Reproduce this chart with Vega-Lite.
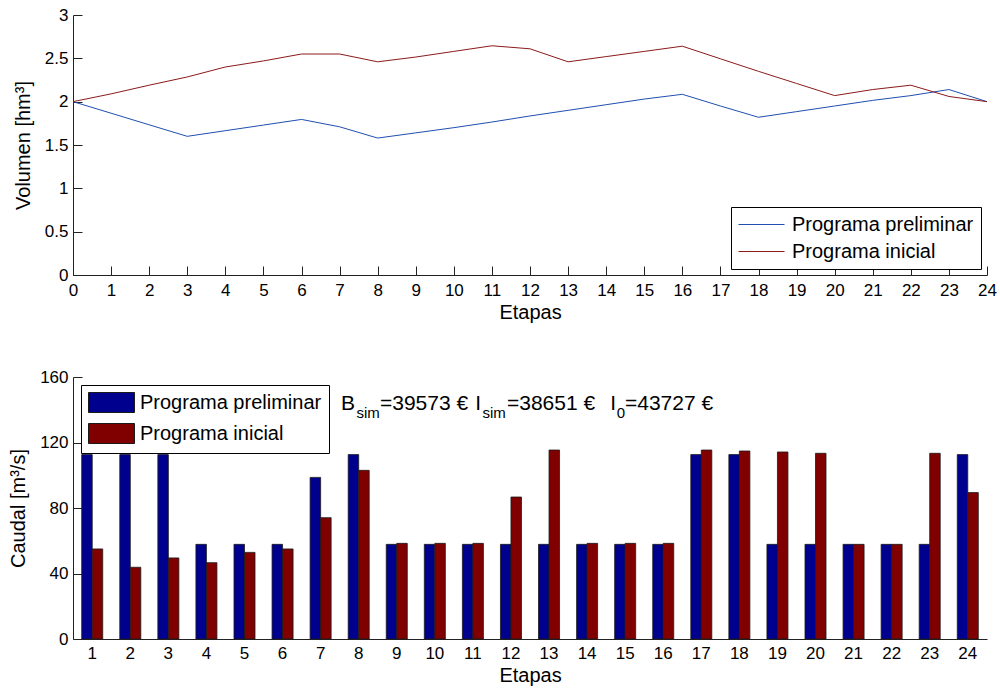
{
  "$schema": "https://vega.github.io/schema/vega-lite/v6.json",
  "padding": {"left": 8, "top": 6, "right": 5, "bottom": 5},
  "background": "#ffffff",
  "spacing": 46,
  "datasets": {
    "volumen": [
      {"etapa": 0, "programa": "Programa preliminar", "volumen": 2.0},
      {"etapa": 1, "programa": "Programa preliminar", "volumen": 1.867},
      {"etapa": 2, "programa": "Programa preliminar", "volumen": 1.733},
      {"etapa": 3, "programa": "Programa preliminar", "volumen": 1.6},
      {"etapa": 4, "programa": "Programa preliminar", "volumen": 1.665},
      {"etapa": 5, "programa": "Programa preliminar", "volumen": 1.73},
      {"etapa": 6, "programa": "Programa preliminar", "volumen": 1.795},
      {"etapa": 7, "programa": "Programa preliminar", "volumen": 1.71},
      {"etapa": 8, "programa": "Programa preliminar", "volumen": 1.58},
      {"etapa": 9, "programa": "Programa preliminar", "volumen": 1.64},
      {"etapa": 10, "programa": "Programa preliminar", "volumen": 1.7},
      {"etapa": 11, "programa": "Programa preliminar", "volumen": 1.765},
      {"etapa": 12, "programa": "Programa preliminar", "volumen": 1.835},
      {"etapa": 13, "programa": "Programa preliminar", "volumen": 1.9},
      {"etapa": 14, "programa": "Programa preliminar", "volumen": 1.965},
      {"etapa": 15, "programa": "Programa preliminar", "volumen": 2.03},
      {"etapa": 16, "programa": "Programa preliminar", "volumen": 2.085},
      {"etapa": 17, "programa": "Programa preliminar", "volumen": 1.95},
      {"etapa": 18, "programa": "Programa preliminar", "volumen": 1.82},
      {"etapa": 19, "programa": "Programa preliminar", "volumen": 1.885},
      {"etapa": 20, "programa": "Programa preliminar", "volumen": 1.95},
      {"etapa": 21, "programa": "Programa preliminar", "volumen": 2.015},
      {"etapa": 22, "programa": "Programa preliminar", "volumen": 2.07},
      {"etapa": 23, "programa": "Programa preliminar", "volumen": 2.14},
      {"etapa": 24, "programa": "Programa preliminar", "volumen": 2.0},
      {"etapa": 0, "programa": "Programa inicial", "volumen": 2.0},
      {"etapa": 1, "programa": "Programa inicial", "volumen": 2.09},
      {"etapa": 2, "programa": "Programa inicial", "volumen": 2.19},
      {"etapa": 3, "programa": "Programa inicial", "volumen": 2.285},
      {"etapa": 4, "programa": "Programa inicial", "volumen": 2.4},
      {"etapa": 5, "programa": "Programa inicial", "volumen": 2.47},
      {"etapa": 6, "programa": "Programa inicial", "volumen": 2.55},
      {"etapa": 7, "programa": "Programa inicial", "volumen": 2.55},
      {"etapa": 8, "programa": "Programa inicial", "volumen": 2.46},
      {"etapa": 9, "programa": "Programa inicial", "volumen": 2.515},
      {"etapa": 10, "programa": "Programa inicial", "volumen": 2.58},
      {"etapa": 11, "programa": "Programa inicial", "volumen": 2.645},
      {"etapa": 12, "programa": "Programa inicial", "volumen": 2.61},
      {"etapa": 13, "programa": "Programa inicial", "volumen": 2.46},
      {"etapa": 14, "programa": "Programa inicial", "volumen": 2.52},
      {"etapa": 15, "programa": "Programa inicial", "volumen": 2.58},
      {"etapa": 16, "programa": "Programa inicial", "volumen": 2.64},
      {"etapa": 17, "programa": "Programa inicial", "volumen": 2.495},
      {"etapa": 18, "programa": "Programa inicial", "volumen": 2.35},
      {"etapa": 19, "programa": "Programa inicial", "volumen": 2.21},
      {"etapa": 20, "programa": "Programa inicial", "volumen": 2.07},
      {"etapa": 21, "programa": "Programa inicial", "volumen": 2.14},
      {"etapa": 22, "programa": "Programa inicial", "volumen": 2.19},
      {"etapa": 23, "programa": "Programa inicial", "volumen": 2.06},
      {"etapa": 24, "programa": "Programa inicial", "volumen": 2.0}
    ],
    "caudal": [
      {"etapa": 1, "programa": "Programa preliminar", "caudal": 112.6},
      {"etapa": 2, "programa": "Programa preliminar", "caudal": 112.6},
      {"etapa": 3, "programa": "Programa preliminar", "caudal": 112.6},
      {"etapa": 4, "programa": "Programa preliminar", "caudal": 57.8},
      {"etapa": 5, "programa": "Programa preliminar", "caudal": 57.8},
      {"etapa": 6, "programa": "Programa preliminar", "caudal": 57.8},
      {"etapa": 7, "programa": "Programa preliminar", "caudal": 98.7},
      {"etapa": 8, "programa": "Programa preliminar", "caudal": 112.6},
      {"etapa": 9, "programa": "Programa preliminar", "caudal": 57.8},
      {"etapa": 10, "programa": "Programa preliminar", "caudal": 57.8},
      {"etapa": 11, "programa": "Programa preliminar", "caudal": 57.8},
      {"etapa": 12, "programa": "Programa preliminar", "caudal": 57.8},
      {"etapa": 13, "programa": "Programa preliminar", "caudal": 57.8},
      {"etapa": 14, "programa": "Programa preliminar", "caudal": 57.8},
      {"etapa": 15, "programa": "Programa preliminar", "caudal": 57.8},
      {"etapa": 16, "programa": "Programa preliminar", "caudal": 57.8},
      {"etapa": 17, "programa": "Programa preliminar", "caudal": 112.6},
      {"etapa": 18, "programa": "Programa preliminar", "caudal": 112.6},
      {"etapa": 19, "programa": "Programa preliminar", "caudal": 57.8},
      {"etapa": 20, "programa": "Programa preliminar", "caudal": 57.8},
      {"etapa": 21, "programa": "Programa preliminar", "caudal": 57.8},
      {"etapa": 22, "programa": "Programa preliminar", "caudal": 57.8},
      {"etapa": 23, "programa": "Programa preliminar", "caudal": 57.8},
      {"etapa": 24, "programa": "Programa preliminar", "caudal": 112.6},
      {"etapa": 1, "programa": "Programa inicial", "caudal": 55.0},
      {"etapa": 2, "programa": "Programa inicial", "caudal": 43.8},
      {"etapa": 3, "programa": "Programa inicial", "caudal": 49.5},
      {"etapa": 4, "programa": "Programa inicial", "caudal": 46.6},
      {"etapa": 5, "programa": "Programa inicial", "caudal": 52.9},
      {"etapa": 6, "programa": "Programa inicial", "caudal": 55.0},
      {"etapa": 7, "programa": "Programa inicial", "caudal": 74.1},
      {"etapa": 8, "programa": "Programa inicial", "caudal": 103.0},
      {"etapa": 9, "programa": "Programa inicial", "caudal": 58.4},
      {"etapa": 10, "programa": "Programa inicial", "caudal": 58.4},
      {"etapa": 11, "programa": "Programa inicial", "caudal": 58.4},
      {"etapa": 12, "programa": "Programa inicial", "caudal": 86.7},
      {"etapa": 13, "programa": "Programa inicial", "caudal": 115.4},
      {"etapa": 14, "programa": "Programa inicial", "caudal": 58.4},
      {"etapa": 15, "programa": "Programa inicial", "caudal": 58.4},
      {"etapa": 16, "programa": "Programa inicial", "caudal": 58.4},
      {"etapa": 17, "programa": "Programa inicial", "caudal": 115.4},
      {"etapa": 18, "programa": "Programa inicial", "caudal": 114.8},
      {"etapa": 19, "programa": "Programa inicial", "caudal": 114.2},
      {"etapa": 20, "programa": "Programa inicial", "caudal": 113.4},
      {"etapa": 21, "programa": "Programa inicial", "caudal": 57.8},
      {"etapa": 22, "programa": "Programa inicial", "caudal": 57.8},
      {"etapa": 23, "programa": "Programa inicial", "caudal": 113.4},
      {"etapa": 24, "programa": "Programa inicial", "caudal": 89.4}
    ]
  },
  "resolve": {"scale": {"color": "independent"}, "legend": {"color": "independent"}},
  "vconcat": [
    {
      "width": 914,
      "height": 260,
      "data": {"name": "volumen"},
      "mark": {"type": "line", "strokeWidth": 1},
      "encoding": {
        "x": {
          "field": "etapa", "type": "quantitative",
          "scale": {"domain": [0, 24], "nice": false, "zero": false},
          "axis": {"values": [0,1,2,3,4,5,6,7,8,9,10,11,12,13,14,15,16,17,18,19,20,21,22,23,24], "title": "Etapas", "format": "d", "labelPadding": 16}
        },
        "y": {
          "field": "volumen", "type": "quantitative",
          "scale": {"domain": [0, 3], "nice": false},
          "axis": {"values": [0, 0.5, 1, 1.5, 2, 2.5, 3], "format": "~g", "title": "Volumen [hm³]", "labelPadding": 14}
        },
        "color": {
          "field": "programa", "type": "nominal",
          "scale": {"domain": ["Programa preliminar", "Programa inicial"], "range": ["#1f4fb0", "#8b1a1a"]},
          "legend": {
            "title": null, "orient": "bottom-right", "offset": 6,
            "symbolType": "M-1,0H3.6", "symbolSize": 400, "symbolStrokeWidth": 1,
            "labelOffset": 33
          }
        }
      }
    },
    {
      "width": 914,
      "height": 262,
      "layer": [
        {
          "data": {"name": "caudal"},
          "mark": {"type": "bar", "stroke": "#1a1a1a", "strokeWidth": 0.8},
          "encoding": {
            "x": {
              "field": "etapa", "type": "ordinal",
              "scale": {"paddingInner": 0.448, "paddingOuter": 0.229},
              "axis": {"title": "Etapas", "labelAngle": 0, "ticks": false, "labelPadding": 6}
            },
            "xOffset": {"field": "programa", "type": "nominal", "scale": {"domain": ["Programa preliminar", "Programa inicial"]}},
            "y": {
              "field": "caudal", "type": "quantitative",
              "scale": {"domain": [0, 160], "nice": false},
              "axis": {"values": [0, 40, 80, 120, 160], "title": "Caudal [m³/s]", "labelPadding": 14}
            },
            "color": {
              "field": "programa", "type": "nominal",
              "scale": {"domain": ["Programa preliminar", "Programa inicial"], "range": ["#00008f", "#800000"]},
              "legend": {
                "title": null, "orient": "top-left", "offset": 8,
                "symbolType": "M-1,-1H3.6V1H-1Z", "symbolSize": 400, "symbolStrokeWidth": 1,
                "symbolStrokeColor": "#1a1a1a", "symbolOpacity": 1, "symbolFillOpacity": 1,
                "labelOffset": 31
              }
            }
          }
        },
        {"data": {"values": [{}]}, "mark": {"type": "text", "align": "left", "baseline": "alphabetic", "fontSize": 21, "dx": -17.7}, "encoding": {"x": {"datum": 8, "type": "ordinal"}, "y": {"datum": 140}, "text": {"value": "B"}}},
        {"data": {"values": [{}]}, "mark": {"type": "text", "align": "left", "baseline": "alphabetic", "fontSize": 15, "dx": -2.2, "dy": 8}, "encoding": {"x": {"datum": 8, "type": "ordinal"}, "y": {"datum": 140}, "text": {"value": "sim"}}},
        {"data": {"values": [{}]}, "mark": {"type": "text", "align": "left", "baseline": "alphabetic", "fontSize": 21, "dx": 21.3}, "encoding": {"x": {"datum": 8, "type": "ordinal"}, "y": {"datum": 140}, "text": {"value": "=39573 €"}}},
        {"data": {"values": [{}]}, "mark": {"type": "text", "align": "left", "baseline": "alphabetic", "fontSize": 21, "dx": 116.5}, "encoding": {"x": {"datum": 8, "type": "ordinal"}, "y": {"datum": 140}, "text": {"value": "I"}}},
        {"data": {"values": [{}]}, "mark": {"type": "text", "align": "left", "baseline": "alphabetic", "fontSize": 15, "dx": 123.8, "dy": 8}, "encoding": {"x": {"datum": 8, "type": "ordinal"}, "y": {"datum": 140}, "text": {"value": "sim"}}},
        {"data": {"values": [{}]}, "mark": {"type": "text", "align": "left", "baseline": "alphabetic", "fontSize": 21, "dx": 148.3}, "encoding": {"x": {"datum": 8, "type": "ordinal"}, "y": {"datum": 140}, "text": {"value": "=38651 €"}}},
        {"data": {"values": [{}]}, "mark": {"type": "text", "align": "left", "baseline": "alphabetic", "fontSize": 21, "dx": 251.5}, "encoding": {"x": {"datum": 8, "type": "ordinal"}, "y": {"datum": 140}, "text": {"value": "I"}}},
        {"data": {"values": [{}]}, "mark": {"type": "text", "align": "left", "baseline": "alphabetic", "fontSize": 15, "dx": 258, "dy": 8}, "encoding": {"x": {"datum": 8, "type": "ordinal"}, "y": {"datum": 140}, "text": {"value": "0"}}},
        {"data": {"values": [{}]}, "mark": {"type": "text", "align": "left", "baseline": "alphabetic", "fontSize": 21, "dx": 266.3}, "encoding": {"x": {"datum": 8, "type": "ordinal"}, "y": {"datum": 140}, "text": {"value": "=43727 €"}}}
      ]
    }
  ],
  "config": {
    "font": "Liberation Sans",
    "view": {"stroke": null},
    "text": {"font": "Liberation Sans", "color": "#000"},
    "axis": {
      "grid": false,
      "domainColor": "#222",
      "domainWidth": 1,
      "tickColor": "#222",
      "tickSize": -9,
      "tickWidth": 1,
      "labelFont": "Liberation Sans",
      "labelFontSize": 17,
      "labelColor": "#000",
      "titleFont": "Liberation Sans",
      "titleFontSize": 20,
      "titleFontWeight": "normal",
      "titleColor": "#000"
    },
    "axisX": {"titlePadding": 4, "labelFlush": false},
    "axisY": {"titlePadding": 11},
    "legend": {
      "labelFont": "Liberation Sans",
      "labelFontSize": 20,
      "labelColor": "#000",
      "labelLimit": 400,
      "strokeColor": "#000",
      "fillColor": "#fff",
      "padding": 7,
      "rowPadding": 6,
      "symbolOffset": 0
    }
  }
}
